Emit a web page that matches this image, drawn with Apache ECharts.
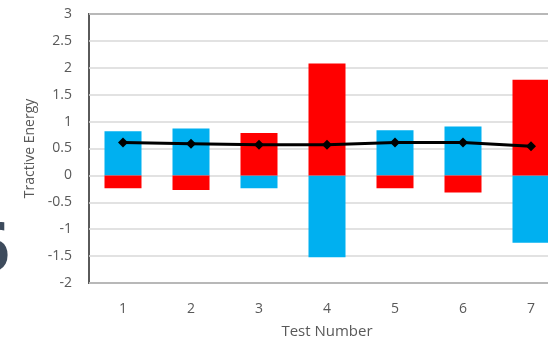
<!DOCTYPE html>
<html>
<head>
<meta charset="utf-8">
<script src="https://cdn.jsdelivr.net/npm/echarts@6/dist/echarts.min.js"></script>
<style>html,body{margin:0;padding:0;background:#fff;overflow:hidden;width:548px;height:345px;}#c{width:580px;height:345px;}</style>
</head>
<body>
<div id="c"></div>
<script>
const categories = ['1','2','3','4','5','6','7'];
const blueValues = [0.82, 0.87, -0.24, -1.52, 0.84, 0.91, -1.25];
const redValues = [-0.24, -0.27, 0.79, 2.08, -0.24, -0.32, 1.78];
const lineValues = [0.61, 0.59, 0.57, 0.57, 0.61, 0.61, 0.54];
const yTicks = [-2, -1.5, -1, -0.5, 0, 0.5, 1, 1.5, 2, 2.5, 3];

const chart = echarts.init(document.getElementById('c'), null, {renderer: 'canvas'});
const font = 'Open Sans';
chart.setOption({
  animation: false,
  backgroundColor: '#ffffff',
  grid: {left: 89, top: 14, width: 476, height: 269, show: true, borderColor: '#5a5a5a', borderWidth: 2, backgroundColor: 'transparent'},
  xAxis: {
    type: 'category', data: categories,
    axisLine: {show: false}, axisTick: {show: false},
    axisLabel: {color: '#595959', fontSize: 14, fontFamily: font, margin: 19},
    name: 'Test Number', nameLocation: 'middle', nameGap: 41,
    nameTextStyle: {color: '#595959', fontSize: 15, fontFamily: font}
  },
  yAxis: {
    type: 'value', min: yTicks[0], max: yTicks[yTicks.length-1], interval: 0.5,
    axisLine: {show: false}, axisTick: {show: false},
    axisLabel: {color: '#595959', fontSize: 14, fontFamily: font, margin: 17},
    splitLine: {lineStyle: {color: '#d9d9d9', width: 1.5}},
    name: 'Tractive Energy', nameLocation: 'middle', nameGap: 52, nameRotate: 90,
    nameTextStyle: {color: '#595959', fontSize: 14, fontFamily: font}
  },
  graphic: [{
    type: 'text', left: -28, top: 219,
    style: {text: '6', fontSize: 66, fontWeight: 'bold', fontFamily: 'Open Sans', fill: '#3d4b5c'}
  }],
  series: [
    {type: 'bar', data: blueValues, barWidth: 37, barGap: '-100%', itemStyle: {color: '#00b0f0'}},
    {type: 'bar', data: redValues, barWidth: 37, barGap: '-100%', itemStyle: {color: '#ff0000'}},
    {type: 'line', data: lineValues, symbol: 'diamond', symbolSize: 10, lineStyle: {color: '#000', width: 3}, itemStyle: {color: '#000'}, z: 5}
  ]
});
</script>
</body>
</html>
